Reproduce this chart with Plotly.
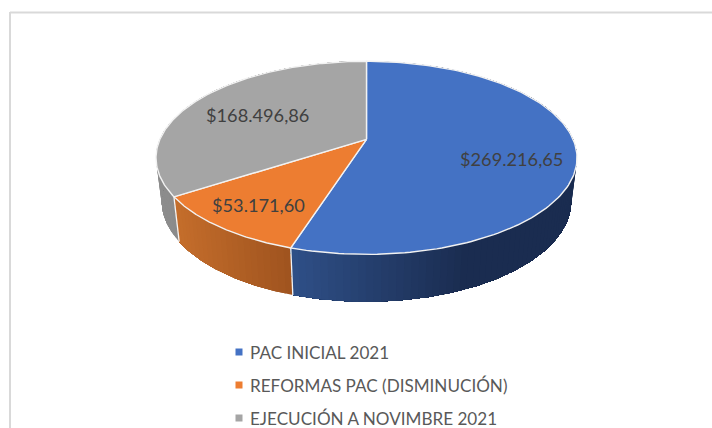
import numpy as np
import plotly.graph_objects as go

categories = ["PAC INICIAL 2021", "REFORMAS PAC (DISMINUCIÓN)", "EJECUCIÓN A NOVIMBRE 2021"]
values = [269216.65, 53171.60, 168496.86]
value_labels = ["$269.216,65", "$53.171,60", "$168.496,86"]
top_colors = ["#4472C4", "#ED7D31", "#A5A5A5"]
side_left = ["#2F5088", "#C46D2B", "#8E8E8E"]
side_right = ["#1A2C50", "#A0541F", "#8A8A8A"]
label_xy = [(511.5, 159), (258.5, 205), (257.5, 115)]
legend_y = [352, 385, 418]

CX, K = 366.5, 0.1917
TOP = dict(a=206.6, b=93.0, cy=139.3)
BOT = dict(a=201.0, b=97.0, cy=181.7)


def project(theta, p):
    u, v = np.sin(theta), np.cos(theta)
    w = 1 + K * v
    return CX + p["a"] * u / w, p["cy"] - p["b"] * v / w


def hexmix(c1, c2, t):
    t = min(max(t, 0), 1)
    a = [int(c1[i:i + 2], 16) for i in (1, 3, 5)]
    b = [int(c2[i:i + 2], 16) for i in (1, 3, 5)]
    return "#%02x%02x%02x" % tuple(round(x + (y - x) * t) for x, y in zip(a, b))


fracs = np.cumsum([0] + values) / sum(values)
angles = 2 * np.pi * fracs
grad_range = [(292, 470), (178, 292), (150, 180)]
fig = go.Figure()

# side walls: each strip runs to the far end of its slice and the next strip paints over it,
# so no background can show between strips.
for i in [2, 1, 0]:
    t0, t1 = angles[i], angles[i + 1]
    n = max(int((t1 - t0) / 0.03), 2)
    edges = np.linspace(t0, t1, n + 1)
    g0, g1 = grad_range[i]
    for j in range(n):
        arc = np.linspace(edges[j], t1, max(n - j, 1) * 3 + 1)
        xt, yt = project(arc, TOP)
        xb, yb = project(arc[::-1], BOT)
        xm = project(edges[j], TOP)[0]
        col = hexmix(side_left[i], side_right[i], (xm - g0) / (g1 - g0))
        fig.add_trace(go.Scatter(
            x=list(xt) + list(xb) + [xt[0]], y=list(yt) + list(yb) + [yt[0]],
            mode="lines", fill="toself", fillcolor=col,
            line=dict(color=col, width=0), hoverinfo="skip", showlegend=False))

# white seams on the visible wall splits
for t in angles[1:3]:
    xt, yt = project(t, TOP)
    xb, yb = project(t, BOT)
    fig.add_trace(go.Scatter(x=[xt, xb], y=[yt, yb], mode="lines",
                             line=dict(color="#F4F4F4", width=1.3), hoverinfo="skip", showlegend=False))

# top faces
for i in range(3):
    th = np.linspace(angles[i], angles[i + 1], 160)
    x, y = project(th, TOP)
    ax, ay = CX, TOP["cy"]
    fig.add_trace(go.Scatter(
        x=[ax] + list(x) + [ax], y=[ay] + list(y) + [ay],
        mode="lines", fill="toself", fillcolor=top_colors[i],
        line=dict(color="#F2F2F2", width=1.4), name=categories[i],
        hovertemplate=value_labels[i] + "<extra>" + categories[i] + "</extra>", showlegend=False))

annotations = [
    dict(x=p[0], y=p[1], text=t, showarrow=False, xref="x", yref="y",
         font=dict(family="Lato", size=18.2, color="#404040"))
    for p, t in zip(label_xy, value_labels)
]
shapes = [
    dict(type="line", xref="x", yref="y", x0=10, x1=10, y0=12, y1=428, line=dict(color="#D9D9D9", width=2)),
    dict(type="line", xref="x", yref="y", x0=10, x1=712, y0=12.5, y1=12.5, line=dict(color="#D9D9D9", width=2)),
]
for name, col, ly in zip(categories, top_colors, legend_y):
    shapes.append(dict(type="rect", xref="x", yref="y", x0=235.5, x1=242.5, y0=ly - 3.5, y1=ly + 3.5,
                       fillcolor=col, line=dict(width=0)))
    annotations.append(dict(x=247.5, y=ly, text=name, showarrow=False, xref="x", yref="y",
                            xanchor="left", font=dict(family="Lato", size=17.1, color="#595959")))

fig.update_layout(
    width=712, height=428, margin=dict(l=0, r=0, t=0, b=0),
    paper_bgcolor="white", plot_bgcolor="white", showlegend=False,
    xaxis=dict(range=[0, 712], visible=False, fixedrange=True),
    yaxis=dict(range=[428, 0], visible=False, fixedrange=True),
    annotations=annotations, shapes=shapes,
)
fig.write_html("out.html", config={"displayModeBar": False},
               post_script="document.body.style.margin='0';document.documentElement.style.overflow='hidden';")
